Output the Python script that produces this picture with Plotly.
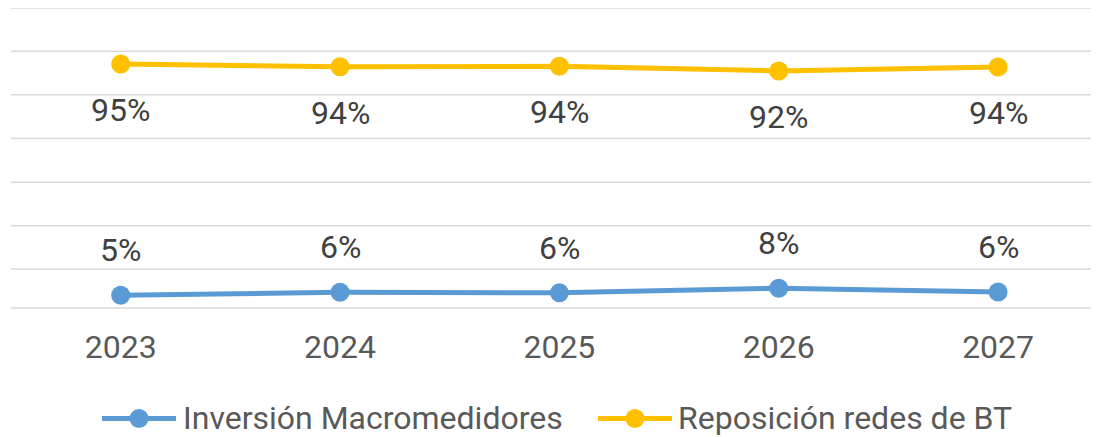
import plotly.graph_objects as go

years = ["2023", "2024", "2025", "2026", "2027"]
macromedidores = [0.050, 0.061, 0.059, 0.077, 0.062]
redes_bt = [0.950, 0.939, 0.941, 0.923, 0.938]
series_names = ["Inversión Macromedidores", "Reposición redes de BT"]
grid_vals = [0.0, 0.152, 0.32, 0.49, 0.66, 0.83, 1.0, 1.168]
Y_MAX = 1.168

BLUE = "#5B9BD5"
YELLOW = "#FFC000"
GRID = "#D9D9D9"
FONT = "Roboto"
FS = 32

OFF = 8  # default page body margin
W, H = 1099 - OFF, 437 - OFF
PLOT_L, PLOT_T, PLOT_B = 11, 8, 307.7  # page pixel coords of plot area
L = PLOT_L - OFF
T = PLOT_T - OFF
B = H - (PLOT_B - OFF)
R = 0

fig = go.Figure()
x_idx = list(range(len(years)))

# gridlines drawn as paper-referenced shapes so the edge lines are visible too
for g in grid_vals:
    fig.add_shape(type="line", xref="paper", yref="paper", layer="below",
                  x0=0, x1=1, y0=g / Y_MAX, y1=g / Y_MAX,
                  line=dict(color=GRID, width=1.5))

for vals, color, name in [(macromedidores, BLUE, series_names[0]), (redes_bt, YELLOW, series_names[1])]:
    fig.add_trace(go.Scatter(
        x=x_idx, y=vals, mode="lines+markers", name=name,
        line=dict(color=color, width=5),
        marker=dict(color=color, size=19),
        showlegend=False, cliponaxis=False,
    ))

# data labels
for i, v in enumerate(redes_bt):
    fig.add_annotation(x=i, y=v, text=f"{round(v*100)}%", showarrow=False,
                       yshift=-46, font=dict(family=FONT, size=FS, color="#404040"))
for i, v in enumerate(macromedidores):
    fig.add_annotation(x=i, y=v, text=f"{round(v*100)}%", showarrow=False,
                       yshift=45, font=dict(family=FONT, size=FS, color="#404040"))

# custom legend (coordinates given in page pixels)
pw = W - L - R
ph = H - T - B
def px(xp):
    return (xp - OFF - L) / pw
def py(yp):
    return (PLOT_B - yp) / ph

legend_y = 418
for (x0, x1, color, tx, name) in [(102, 176, BLUE, 181, series_names[0]), (598, 672, YELLOW, 676, series_names[1])]:
    fig.add_shape(type="line", xref="paper", yref="paper",
                  x0=px(x0), x1=px(x1), y0=py(legend_y), y1=py(legend_y),
                  line=dict(color=color, width=5))
    cx = (x0 + x1) / 2
    r = 9.5
    fig.add_shape(type="circle", xref="paper", yref="paper",
                  x0=px(cx - r), x1=px(cx + r), y0=py(legend_y + r), y1=py(legend_y - r),
                  line=dict(color=color, width=0), fillcolor=color)
    fig.add_annotation(xref="paper", yref="paper", x=px(tx), y=py(legend_y),
                       text=name, showarrow=False, xanchor="left", yanchor="middle",
                       font=dict(family=FONT, size=FS, color="#595959"))

fig.update_layout(
    width=W, height=H,
    margin=dict(l=L, r=R, t=T, b=B, autoexpand=False),
    paper_bgcolor="white", plot_bgcolor="white",
    showlegend=False,
    font=dict(family=FONT),
)
fig.update_xaxes(
    tickvals=x_idx, ticktext=years, range=[-0.5, 4.46],
    showgrid=False, zeroline=False,
    showline=False,
    tickfont=dict(family=FONT, size=FS, color="#595959"),
    ticks="", ticklabelstandoff=17,
)
fig.update_yaxes(
    range=[0, Y_MAX], showticklabels=False,
    showgrid=False, zeroline=False, showline=False,
)

fig.write_html("out.html")
